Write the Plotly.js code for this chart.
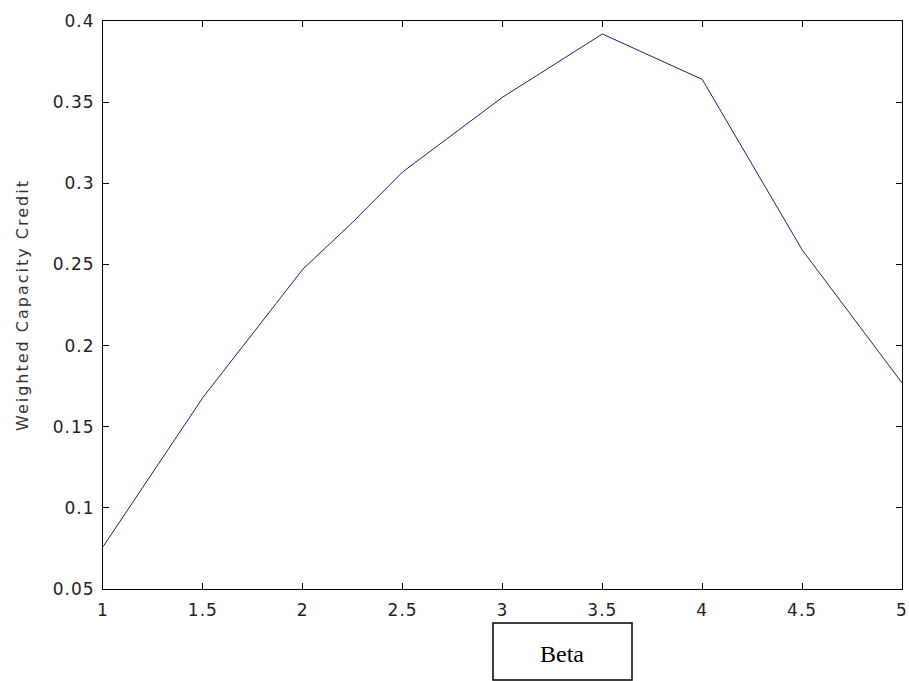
<!DOCTYPE html>
<html>
<head>
<meta charset="utf-8">
<script src="https://cdn.plot.ly/plotly-3.0.1.min.js"></script>
<style>
  html, body { margin: 0; padding: 0; background: #fff; }
  #chart { width: 909px; height: 681px; }
  #chart .xtick text, #chart .ytick text { letter-spacing: 1px; }
  #chart .ytitle { letter-spacing: 2px; }
</style>
</head>
<body>
<div id="chart"></div>
<script>
const beta = [1, 1.5, 2, 2.25, 2.5, 3, 3.5, 4, 4.5, 5];
const credit = [0.076, 0.168, 0.247, 0.276, 0.307, 0.353, 0.392, 0.364, 0.259, 0.177];
const xTickVals = [1, 1.5, 2, 2.5, 3, 3.5, 4, 4.5, 5];
const xTickText = ['1', '1.5', '2', '2.5', '3', '3.5', '4', '4.5', '5'];
const yTickVals = [0.05, 0.1, 0.15, 0.2, 0.25, 0.3, 0.35, 0.4];
const yTickText = ['0.05', '0.1', '0.15', '0.2', '0.25', '0.3', '0.35', '0.4'];
const yTitle = 'Weighted Capacity Credit';
const xLabel = 'Beta';

const tickFont = { family: 'DejaVu Sans, Arial, sans-serif', size: 17, color: '#222' };

const trace = {
  x: beta, y: credit, type: 'scatter', mode: 'lines',
  line: { color: '#1f1f70', width: 1 },
  hoverinfo: 'skip', showlegend: false
};

const layout = {
  width: 909, height: 681,
  margin: { l: 103, r: 7, t: 21, b: 92, pad: 0 },
  paper_bgcolor: '#fff', plot_bgcolor: '#fff',
  xaxis: {
    range: [1, 5], tickvals: xTickVals, ticktext: xTickText,
    ticks: 'inside', ticklen: 6, tickwidth: 1, tickcolor: '#000',
    showline: true, linecolor: '#000', linewidth: 1, mirror: 'ticks',
    showgrid: false, zeroline: false, tickfont: tickFont, ticklabelstandoff: 6
  },
  yaxis: {
    range: [0.05, 0.4], tickvals: yTickVals, ticktext: yTickText,
    ticks: 'inside', ticklen: 6, tickwidth: 1, tickcolor: '#000',
    showline: true, linecolor: '#000', linewidth: 1, mirror: 'ticks',
    showgrid: false, zeroline: false, tickfont: tickFont, ticklabelstandoff: 4,
    title: { text: yTitle, font: { family: 'DejaVu Sans, Arial, sans-serif', size: 16, color: '#333' }, standoff: 24 }
  },
  shapes: [{
    type: 'rect', xref: 'paper', yref: 'paper',
    x0: (493 - 103) / 799, x1: (632 - 103) / 799,
    y0: (589 - 680) / 568, y1: (589 - 623) / 568,
    line: { color: '#000', width: 1.5 }, fillcolor: 'rgba(0,0,0,0)'
  }],
  annotations: [{
    xref: 'paper', yref: 'paper',
    x: (562 - 103) / 799, y: (589 - 654) / 568,
    text: xLabel, showarrow: false,
    font: { family: 'Liberation Serif, Times New Roman, serif', size: 24, color: '#000' },
    xanchor: 'center', yanchor: 'middle'
  }]
};

Plotly.newPlot('chart', [trace], layout, { displayModeBar: false, staticPlot: true });
</script>
</body>
</html>
